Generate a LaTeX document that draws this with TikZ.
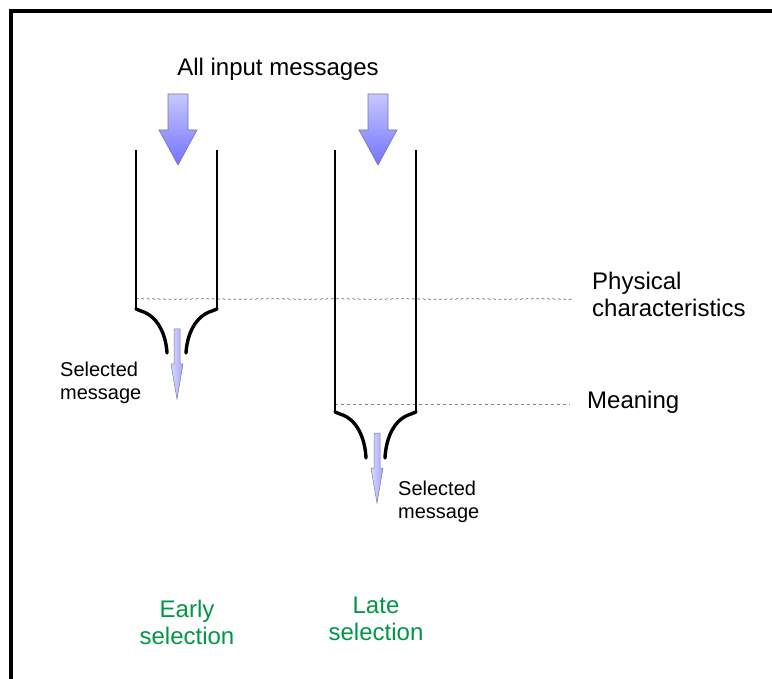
\documentclass[tikz,border=0pt]{standalone}
\usepackage{fontspec}
\setmainfont{Liberation Sans}
\usetikzlibrary{decorations.pathmorphing}
\definecolor{sel}{RGB}{0,150,70}
\definecolor{arrline}{RGB}{120,120,160}
\begin{document}
\begin{tikzpicture}[x=1pt,y=-1pt,
 wall/.style={line width=2.4pt, black},
 lip/.style={line width=3.4pt, black, line cap=round},
 wavy/.style={gray, line width=0.7pt, dashed, decorate, decoration={snake, amplitude=0.6pt, segment length=5pt}},
 flat/.style={gray, line width=0.8pt, dashed},
 big/.style={draw=arrline, line width=0.6pt, top color=blue!22!white, bottom color=blue!55!white},
 small/.style={draw=arrline, line width=0.5pt, left color=blue!15!white, right color=blue!35!white},
 lab/.style={font=\fontsize{24}{26.5}\selectfont, inner sep=0pt},
 slab/.style={font=\fontsize{20}{22.5}\selectfont, inner sep=0pt, align=left},
 grn/.style={font=\fontsize{24}{27}\selectfont, inner sep=0pt, text=sel, align=center},
 bigarrow/.pic={\path[big] (-10,0) -- (10,0) -- (10,36) -- (19,36) -- (0,71) -- (-19,36) -- (-10,36) -- cycle;},
 smallarrow/.pic={\path[small] (-3,0) -- (3,0) -- (3,35) -- (6,35) -- (0,70) -- (-6,35) -- (-3,35) -- cycle;}]

\useasboundingbox (0,0) rectangle (772,679);
\draw[line width=4pt] (11,679) -- (11,11) -- (772,11);

% level lines
\coordinate (p1) at (136,299);
\coordinate (p2) at (572,299);
\coordinate (m1) at (335,404);
\coordinate (m2) at (570,404);
\draw[wavy] (p1) -- (p2);
\draw[flat] (m1) -- (m2);

% early funnel
\coordinate (el1) at (136,150);
\coordinate (el2) at (136,309);
\coordinate (er1) at (217,150);
\coordinate (er2) at (217,309);
\draw[wall] (el1) -- (el2);
\draw[wall] (er1) -- (er2);
\draw[lip] (el2) -- (141,311) .. controls (158,316) and (166,335) .. (167,353);
\draw[lip] (er2) -- (212,311) .. controls (195,316) and (187,335) .. (186,353);

% late funnel
\coordinate (ll1) at (335,150);
\coordinate (ll2) at (335,412);
\coordinate (lr1) at (416,150);
\coordinate (lr2) at (416,412);
\draw[wall] (ll1) -- (ll2);
\draw[wall] (lr1) -- (lr2);
\draw[lip] (ll2) -- (340,414) .. controls (357,419) and (365,438) .. (366,458);
\draw[lip] (lr2) -- (411,414) .. controls (394,419) and (386,438) .. (385,458);

% arrows
\pic at (178,94) {bigarrow};
\pic at (378,94) {bigarrow};
\pic at (177,329) {smallarrow};
\pic at (377,433) {smallarrow};

% labels
\node[lab, anchor=base] (all) at (278,76) {All input messages};
\node[lab, anchor=north west, align=left] (phys) at (592,272) {Physical\\characteristics};
\node[lab, anchor=base west] (mean) at (587,409) {Meaning};
\node[slab, anchor=north west] (sel1) at (60,362) {Selected\\message};
\node[slab, anchor=north west] (sel2) at (398,481) {Selected\\message};
\node[grn, anchor=north] (early) at (187,600) {Early\\selection};
\node[grn, anchor=north] (late) at (376,597) {Late\\selection};
\end{tikzpicture}
\end{document}
